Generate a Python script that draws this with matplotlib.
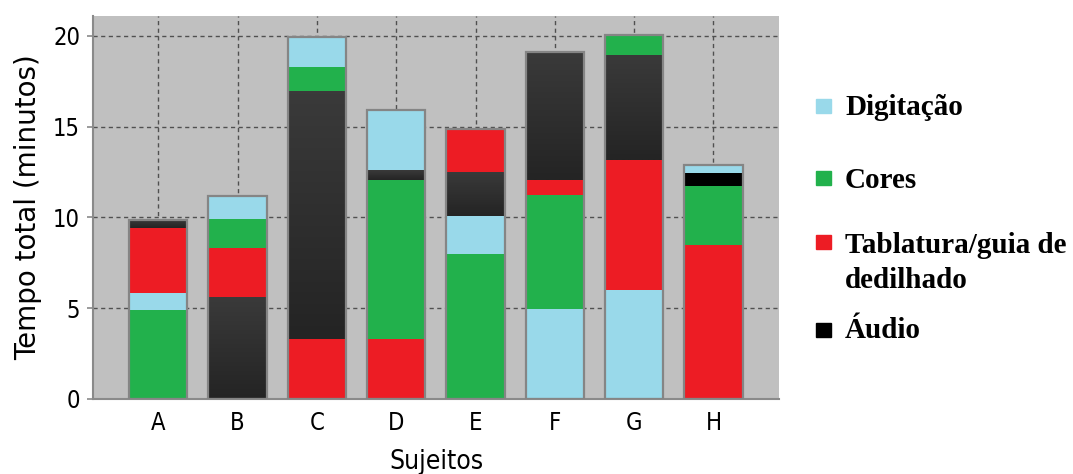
import matplotlib
matplotlib.use('Agg')
import matplotlib.pyplot as plt
from matplotlib.patches import Rectangle
from matplotlib.colors import LinearSegmentedColormap
import numpy as np

# tempo (minutos) por sujeito, segmentos de baixo para cima
subjects = ['A', 'B', 'C', 'D', 'E', 'F', 'G', 'H']
seg_cats = [
    ['Cores', 'Digitação', 'Tablatura', 'Outro'],
    ['Outro', 'Tablatura', 'Cores', 'Digitação'],
    ['Tablatura', 'Outro', 'Cores', 'Digitação'],
    ['Tablatura', 'Cores', 'Outro', 'Digitação'],
    ['Cores', 'Digitação', 'Outro', 'Tablatura'],
    ['Digitação', 'Cores', 'Tablatura', 'Outro'],
    ['Digitação', 'Tablatura', 'Outro', 'Cores'],
    ['Tablatura', 'Cores', 'Áudio', 'Digitação'],
]
seg_vals = [
    [4.9, 0.95, 3.55, 0.45],
    [5.6, 2.7, 1.6, 1.3],
    [3.3, 13.65, 1.35, 1.65],
    [3.3, 8.75, 0.55, 3.3],
    [8.0, 2.05, 2.45, 2.35],
    [4.95, 6.3, 0.8, 7.05],
    [6.0, 7.15, 5.8, 1.1],
    [8.45, 3.3, 0.7, 0.45],
]
legend_labels = [['Digitação'], ['Cores'], ['Tablatura/guia de', 'dedilhado'], ['Áudio']]
legend_keys = ['Digitação', 'Cores', 'Tablatura', 'Áudio']

colors = {'Digitação': '#99d9ea', 'Cores': '#22b14c', 'Tablatura': '#ed1c24',
          'Áudio': '#000000', 'Outro': '#303030'}
dark_grad = LinearSegmentedColormap.from_list('escuro', ['#242424', '#3a3a3a'])

W, H = 1073, 474
fig = plt.figure(figsize=(W / 100, H / 100), dpi=100)
ax = fig.add_axes([93.3 / W, 1 - 399 / H, (779.3 - 93.3) / W, (399 - 15.7) / H])
ax.set_facecolor('#c0c0c0')

x = np.arange(len(subjects))
width = 0.735
for i in range(len(subjects)):
    bottom = 0
    for cat, v in zip(seg_cats[i], seg_vals[i]):
        if cat == 'Outro':
            # segmento escuro com leve degradê vertical
            ax.imshow(np.linspace(0, 1, 64).reshape(-1, 1), cmap=dark_grad, origin='lower',
                      extent=(x[i] - width / 2, x[i] + width / 2, bottom, bottom + v),
                      aspect='auto', interpolation='bilinear', zorder=2)
        else:
            ax.bar(x[i], v, width, bottom=bottom, color=colors[cat], linewidth=0, zorder=2)
        bottom += v
    # contorno cinza da barra inteira
    ax.bar(x[i], bottom, width, fill=False, edgecolor='#858585', linewidth=1.6, zorder=3)

ax.set_xlim(-0.82, 7.83)
ax.set_ylim(0, 21.1)
ax.set_xticks(x)
ax.set_xticklabels(subjects)
ax.set_yticks([0, 5, 10, 15, 20])
ax.grid(True, linestyle=(0, (3, 2.5)), color='#505050', linewidth=1.0, zorder=1)
ax.set_axisbelow(True)

for s in ['top', 'right']:
    ax.spines[s].set_visible(False)
for s in ['left', 'bottom']:
    ax.spines[s].set_color('#8a8a8a')
    ax.spines[s].set_linewidth(1.5)

tick_font = dict(family='DejaVu Sans', stretch='condensed', size=17)
ax.tick_params(axis='y', length=4.5, width=1.2, color='#8a8a8a', pad=5)
ax.tick_params(axis='x', length=0, pad=9)
for lab in ax.get_xticklabels() + ax.get_yticklabels():
    lab.set_fontproperties(matplotlib.font_manager.FontProperties(**tick_font))

ax.set_xlabel('Sujeitos', fontfamily='DejaVu Sans', fontstretch='condensed',
              fontsize=19, labelpad=10)
ax.set_ylabel('Tempo total (minutos)', fontfamily='DejaVu Sans', fontsize=20,
              labelpad=8)

# legenda manual à direita
box_y = [106, 178, 242, 330]
text_y = [[115], [188], [253, 288], [338]]
for key, lines, yc, tys in zip(legend_keys, legend_labels, box_y, text_y):
    fig.patches.append(Rectangle((816 / W, 1 - (yc + 7) / H), 15 / W, 14 / H,
                                 transform=fig.transFigure, color=colors[key]))
    for line, ty in zip(lines, tys):
        fig.text(845 / W, 1 - ty / H, line, transform=fig.transFigure,
                 fontfamily='Liberation Serif', fontweight='bold', fontsize=21,
                 va='baseline', ha='left')

fig.savefig('out.png', dpi=100)
